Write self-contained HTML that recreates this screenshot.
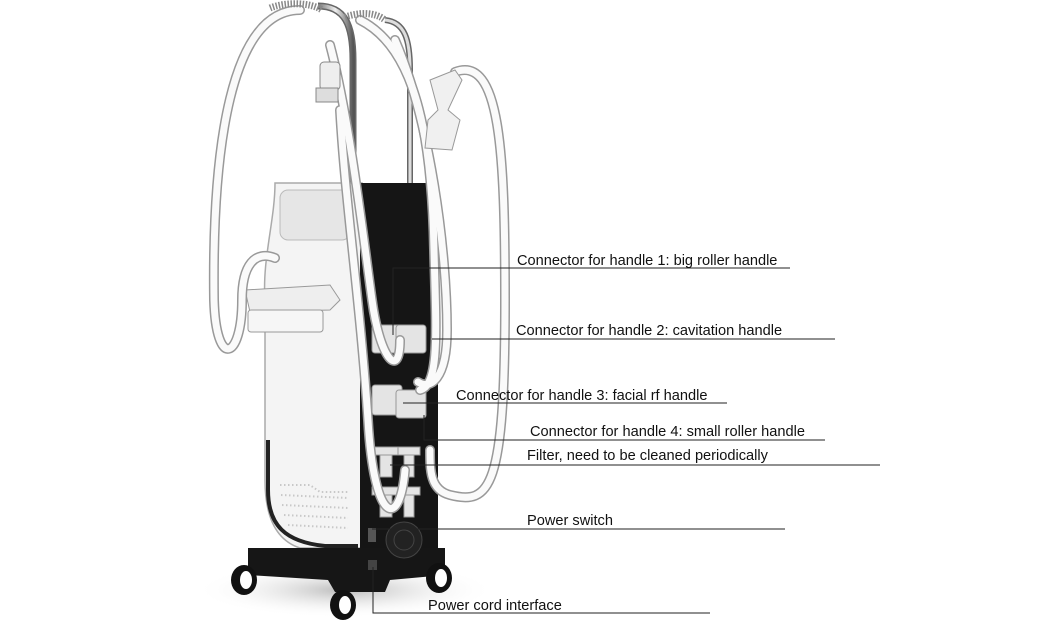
<!DOCTYPE html>
<html><head><meta charset="utf-8"><style>
html,body{margin:0;padding:0;background:#fff}
svg{display:block}
text{font-family:"Liberation Sans",sans-serif;font-size:14.6px;fill:#111}
</style></head><body>
<svg width="1050" height="622" viewBox="0 0 1050 622" xmlns="http://www.w3.org/2000/svg">
<defs>
<radialGradient id="sh" cx="0.5" cy="0.5" r="0.5"><stop offset="0" stop-color="#bbb"/><stop offset="1" stop-color="#fff" stop-opacity="0"/></radialGradient>
<linearGradient id="chrome" x1="0" x2="1"><stop offset="0" stop-color="#777"/><stop offset="0.5" stop-color="#eee"/><stop offset="1" stop-color="#555"/></linearGradient>
</defs>
<ellipse cx="345" cy="590" rx="150" ry="28" fill="url(#sh)"/>
<path d="M318,6 C345,6 353,25 353,60 L353,185" fill="none" stroke="#666" stroke-width="7"/>
<path d="M318,6 C345,6 353,25 353,60 L353,185" fill="none" stroke="url(#chrome)" stroke-width="4"/>
<path d="M385,20 C405,22 410,40 410,70 L410,185" fill="none" stroke="#666" stroke-width="6"/>
<path d="M385,20 C405,22 410,40 410,70 L410,185" fill="none" stroke="#ddd" stroke-width="3"/>
<path d="M275,183 L362,183 L362,548 L300,548 C275,540 265,515 265,480 L265,300 C262,260 275,220 275,183 Z" fill="#f4f4f4" stroke="#aaa" stroke-width="1.5"/>
<path d="M268,440 L268,490 C268,525 285,542 325,546 L358,546" fill="none" stroke="#222" stroke-width="4"/>
<rect x="280" y="190" width="70" height="50" rx="8" fill="#e6e6e6" stroke="#bbb"/>
<g fill="none" stroke="#c8c8c8" stroke-width="2" stroke-dasharray="1.5 2.5">
<path d="M280,485 L310,485 L320,492 L348,492"/><path d="M281,495 L348,498"/><path d="M282,505 L348,508"/><path d="M284,515 L348,518"/><path d="M288,525 L348,528"/>
</g>
<rect x="360" y="183" width="78" height="380" fill="#151515"/>
<path d="M248,548 L445,548 L445,575 L390,580 L385,592 L335,592 L328,580 L248,575 Z" fill="#161616"/>
<circle cx="404" cy="540" r="18" fill="#222" stroke="#444"/>
<circle cx="404" cy="540" r="10" fill="none" stroke="#444"/>
<rect x="368" y="528" width="8" height="14" fill="#555"/>
<rect x="368" y="560" width="9" height="10" fill="#444"/>
<path d="M245,290 L330,285 L340,300 L330,310 L250,312 Z" fill="#eee" stroke="#999"/>
<rect x="248" y="310" width="75" height="22" rx="3" fill="#f6f6f6" stroke="#999"/>
<g fill="#e4e4e4" stroke="#999">
<rect x="372" y="325" width="30" height="28" rx="3"/><rect x="396" y="325" width="30" height="28" rx="3"/>
<rect x="372" y="385" width="30" height="30" rx="3"/><rect x="396" y="390" width="30" height="28" rx="3"/>
<rect x="372" y="447" width="26" height="8"/><rect x="398" y="447" width="22" height="8"/>
<rect x="380" y="455" width="12" height="22"/><rect x="404" y="455" width="10" height="22"/>
<rect x="372" y="487" width="26" height="8"/><rect x="398" y="487" width="22" height="8"/>
<rect x="380" y="495" width="12" height="22"/><rect x="404" y="495" width="10" height="22"/>
</g>
<g fill="none" stroke-linecap="round">
<g stroke="#999" stroke-width="10">
<path d="M300,10 C230,10 212,150 214,300 C216,370 242,360 242,300 C242,265 255,250 275,258"/>
<path d="M340,110 C345,200 360,300 368,420 C374,525 400,530 405,470"/>
<path d="M360,20 C420,50 432,150 434,250 C436,330 440,385 420,390"/>
<path d="M455,72 C500,55 505,150 505,300 C505,490 490,505 450,495 C430,490 430,470 430,450"/>
<path d="M395,40 C430,120 447,250 447,330 C447,380 430,390 418,382"/>
<path d="M330,45 C350,120 365,250 372,300 C380,360 400,380 400,340"/>
</g>
<g stroke="#fafafa" stroke-width="7">
<path d="M300,10 C230,10 212,150 214,300 C216,370 242,360 242,300 C242,265 255,250 275,258"/>
<path d="M340,110 C345,200 360,300 368,420 C374,525 400,530 405,470"/>
<path d="M360,20 C420,50 432,150 434,250 C436,330 440,385 420,390"/>
<path d="M455,72 C500,55 505,150 505,300 C505,490 490,505 450,495 C430,490 430,470 430,450"/>
<path d="M395,40 C430,120 447,250 447,330 C447,380 430,390 418,382"/>
<path d="M330,45 C350,120 365,250 372,300 C380,360 400,380 400,340"/>
</g>
</g>
<path d="M270,8 C285,2 310,2 322,10" fill="none" stroke="#888" stroke-width="7" stroke-dasharray="1.5 1.5"/>
<path d="M345,17 C360,12 375,12 385,20" fill="none" stroke="#888" stroke-width="7" stroke-dasharray="1.5 1.5"/>
<rect x="320" y="62" width="20" height="28" rx="4" fill="#eee" stroke="#888"/>
<rect x="316" y="88" width="22" height="14" fill="#ddd" stroke="#888"/>
<path d="M430,80 L455,70 L462,80 L448,110 L460,120 L452,150 L425,148 L428,120 L438,110 Z" fill="#f0f0f0" stroke="#999"/>
<g fill="none" stroke="#222" stroke-width="1">
<path d="M393,335 L393,268 L790,268"/>
<path d="M432,339 L835,339"/>
<path d="M403,403 L727,403"/>
<path d="M424,415 L424,440 L825,440"/>
<path d="M390,465 L880,465"/>
<path d="M372,529 L785,529"/>
<path d="M373,567 L373,613 L710,613"/>
</g>
<text x="517" y="265">Connector for handle 1: big roller handle</text>
<text x="516" y="335">Connector for handle 2: cavitation handle</text>
<text x="456" y="400">Connector for handle 3: facial rf handle</text>
<text x="530" y="436">Connector for handle 4: small roller handle</text>
<text x="527" y="460">Filter, need to be cleaned periodically</text>
<text x="527" y="525">Power switch</text>
<text x="428" y="610">Power cord interface</text>
<ellipse cx="244" cy="580" rx="13" ry="15" fill="#111"/><ellipse cx="246" cy="580" rx="6" ry="9" fill="#fff"/>
<ellipse cx="343" cy="605" rx="13" ry="15" fill="#111"/><ellipse cx="345" cy="605" rx="6" ry="9" fill="#fff"/>
<ellipse cx="439" cy="578" rx="13" ry="15" fill="#111"/><ellipse cx="441" cy="578" rx="6" ry="9" fill="#fff"/>
</svg>
</body></html>
